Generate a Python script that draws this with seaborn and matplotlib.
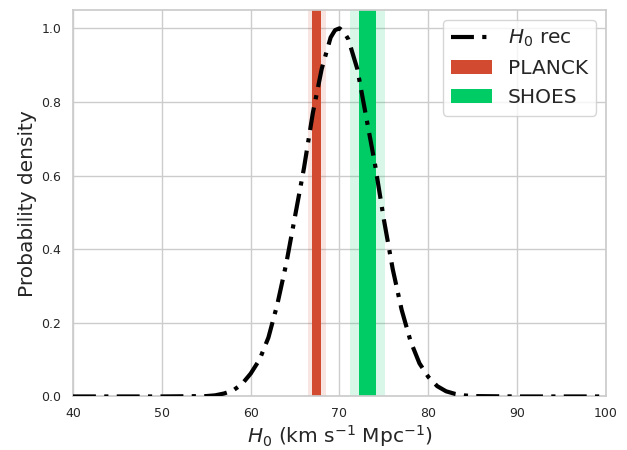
import matplotlib
matplotlib.use("Agg")
import matplotlib.pyplot as plt
import seaborn as sns

"""
reconstructed H0 posterior against the PLANCK and SHOES measurements
"""

# H0 values (km/s/Mpc) and the reconstructed density
H0_GRID = [40, 45, 50, 55, 56, 57, 58, 59, 60, 61, 62, 63, 64, 65, 66, 67, 68, 69,
           69.5, 70, 70.5, 71, 72, 73, 74, 75, 76, 77, 78, 79, 80, 81, 82, 83, 84,
           85, 90, 95, 100]
DENSITY = [0.0, 0.0, 0.0, 0.001, 0.003, 0.008, 0.016, 0.033, 0.062, 0.10, 0.16, 0.25,
           0.36, 0.49, 0.62, 0.77, 0.89, 0.975, 0.995, 1.0, 0.99, 0.97, 0.89, 0.76,
           0.63, 0.48, 0.345, 0.235, 0.15, 0.09, 0.053, 0.028, 0.014, 0.007, 0.003,
           0.001, 0.0, 0.0, 0.0]

# measurements: (mean, sigma)
PLANCK = (67.45, 0.5)
SHOES = (73.15, 1.0)
PLANCK_COLOR = "#d24a30"
SHOES_COLOR = "#00cc66"


def main():
    sns.set_theme(style="whitegrid")
    fig, ax = plt.subplots(figsize=(6.27, 4.5), dpi=100)
    fig.subplots_adjust(left=0.1164, right=0.9665, bottom=0.119, top=0.978)

    # 1 sigma solid band, 2 sigma pale band
    for (mean, sig), color, label in [(PLANCK, PLANCK_COLOR, "PLANCK"),
                                      (SHOES, SHOES_COLOR, "SHOES")]:
        ax.axvspan(mean - 2 * sig, mean + 2 * sig, color=color, alpha=0.15, lw=0)
        ax.axvspan(mean - sig, mean + sig, color=color, lw=0, label=label)

    sns.lineplot(x=H0_GRID, y=DENSITY, ax=ax, color="black", lw=3,
                 linestyle=(0, (5.5, 2, 1, 2)), label=r"$H_0$ rec", zorder=5)

    ax.set_xlim(40, 100)
    ax.set_ylim(0, 1.05)
    ax.set_xlabel(r"$H_0$ (km s$^{-1}$ Mpc$^{-1}$)", fontsize=14.5, labelpad=2.5)
    ax.set_ylabel("Probability density", fontsize=14.5, labelpad=3)
    ax.tick_params(labelsize=9)
    ax.tick_params(axis="x", pad=1.5)
    ax.tick_params(axis="y", pad=2.5)

    handles, labels = ax.get_legend_handles_labels()
    order = [labels.index(n) for n in [r"$H_0$ rec", "PLANCK", "SHOES"]]
    ax.legend([handles[i] for i in order], [labels[i] for i in order],
              loc="upper right", fontsize=14.5)

    fig.savefig("out.png", dpi=100)


if __name__ == '__main__':
    main()
